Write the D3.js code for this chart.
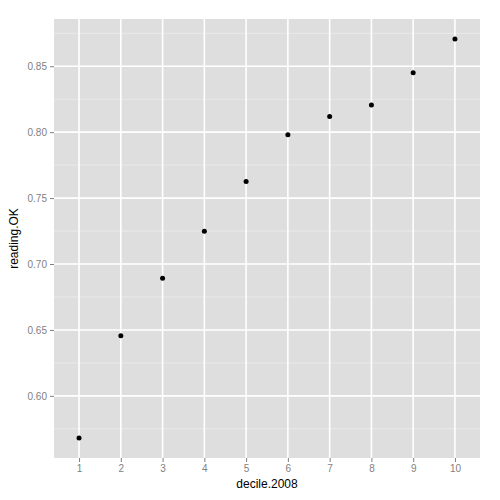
<!DOCTYPE html>
<html>
<head>
<meta charset="utf-8">
<script src="https://cdnjs.cloudflare.com/ajax/libs/d3/7.8.5/d3.min.js"></script>
<style>
  body { margin: 0; background: #fff; }
  text { font-family: "Liberation Sans", Arial, sans-serif; }
</style>
</head>
<body>
<div id="chart"></div>
<script>
// values
var deciles = [1, 2, 3, 4, 5, 6, 7, 8, 9, 10];
var readingOK = [0.568, 0.6455, 0.6892, 0.7248, 0.7625, 0.798, 0.8118, 0.8206, 0.845, 0.8707];
var yTicks = [0.60, 0.65, 0.70, 0.75, 0.80, 0.85];

var width = 500, height = 500;
var margin = {top: 19, right: 20, bottom: 42, left: 54};
var pw = width - margin.left - margin.right;
var ph = height - margin.top - margin.bottom;

var svg = d3.select("#chart").append("svg")
    .attr("width", width)
    .attr("height", height);

var g = svg.append("g")
    .attr("transform", "translate(" + margin.left + "," + margin.top + ")");

// discrete x scale, ggplot style expansion of 0.6
var x = d3.scaleLinear().domain([0.4, 10.6]).range([0, pw]);

var ymin = d3.min(readingOK), ymax = d3.max(readingOK);
var pad = (ymax - ymin) * 0.05;
var y = d3.scaleLinear().domain([ymin - pad, ymax + pad]).range([ph, 0]);

// panel
g.append("rect")
    .attr("width", pw).attr("height", ph)
    .attr("fill", "#dedede");

// minor grid (y)
var minor = [];
for (var i = 0; i < yTicks.length - 1; i++) minor.push((yTicks[i] + yTicks[i + 1]) / 2);
minor.push(yTicks[0] - 0.025);
minor.push(yTicks[yTicks.length - 1] + 0.025);
minor = minor.filter(function (v) { return v > y.domain()[0] && v < y.domain()[1]; });

g.selectAll(".minor")
    .data(minor)
    .enter().append("line")
    .attr("x1", 0).attr("x2", pw)
    .attr("y1", function (d) { return y(d); })
    .attr("y2", function (d) { return y(d); })
    .attr("stroke", "#ececec")
    .attr("stroke-width", 0.8);

// major grid
g.selectAll(".hgrid")
    .data(yTicks)
    .enter().append("line")
    .attr("x1", 0).attr("x2", pw)
    .attr("y1", function (d) { return y(d); })
    .attr("y2", function (d) { return y(d); })
    .attr("stroke", "#ffffff")
    .attr("stroke-width", 1.6);

g.selectAll(".vgrid")
    .data(deciles)
    .enter().append("line")
    .attr("y1", 0).attr("y2", ph)
    .attr("x1", function (d) { return x(d); })
    .attr("x2", function (d) { return x(d); })
    .attr("stroke", "#ffffff")
    .attr("stroke-width", 1.6);

// axes
var xAxis = d3.axisBottom(x).tickValues(deciles).tickSize(4).tickPadding(3)
    .tickFormat(d3.format("d"));
var yAxis = d3.axisLeft(y).tickValues(yTicks).tickSize(4).tickPadding(3)
    .tickFormat(d3.format(".2f"));

var gx = g.append("g")
    .attr("transform", "translate(0," + ph + ")")
    .call(xAxis);
var gy = g.append("g").call(yAxis);

[gx, gy].forEach(function (a) {
    a.select(".domain").remove();
    a.selectAll(".tick line").attr("stroke", "#7f7f7f");
    a.selectAll(".tick text")
        .attr("fill", "#7f7f7f")
        .style("font-size", "10px");
});

// points
g.selectAll(".pt")
    .data(deciles)
    .enter().append("circle")
    .attr("cx", function (d) { return x(d); })
    .attr("cy", function (d, i) { return y(readingOK[i]); })
    .attr("r", 2.5)
    .attr("fill", "black");

// axis titles
svg.append("text")
    .attr("x", margin.left + pw / 2)
    .attr("y", 488)
    .attr("text-anchor", "middle")
    .style("font-size", "12px")
    .text("decile.2008");

svg.append("text")
    .attr("transform", "translate(18," + (margin.top + ph / 2) + ") rotate(-90)")
    .attr("text-anchor", "middle")
    .style("font-size", "12px")
    .text("reading.OK");
</script>
</body>
</html>
